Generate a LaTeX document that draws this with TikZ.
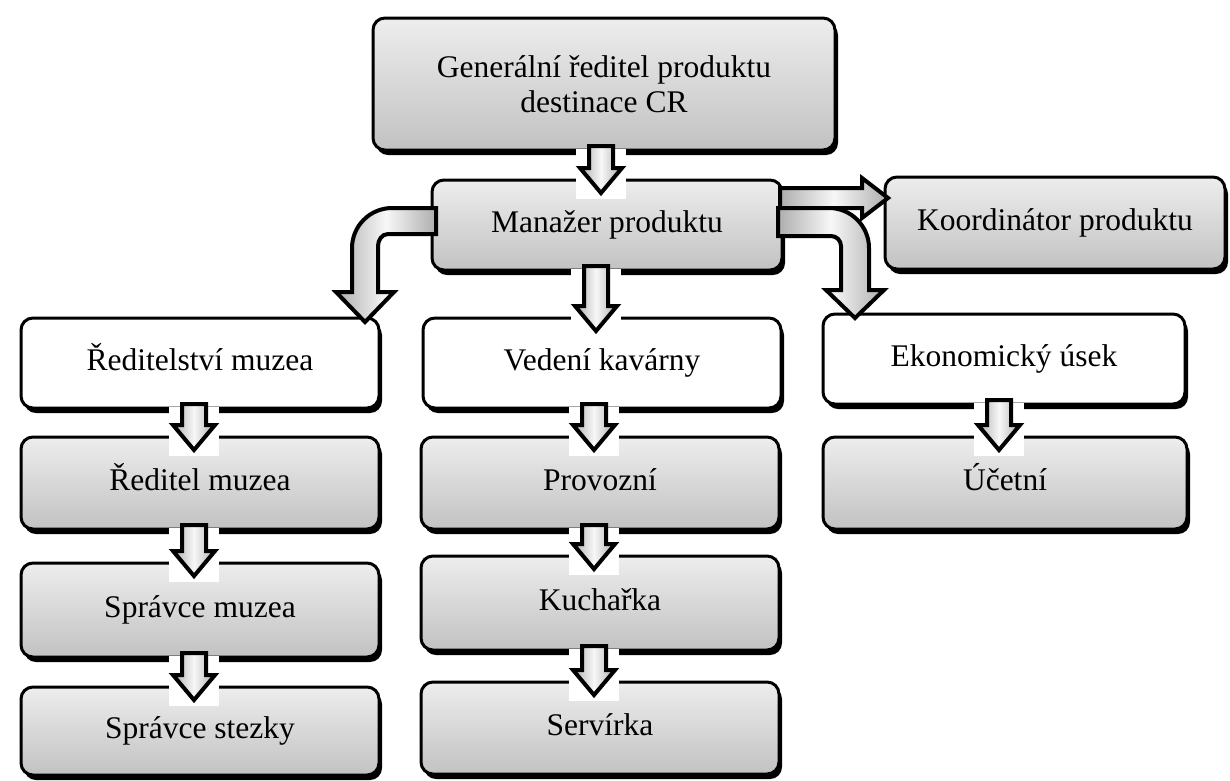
\documentclass[tikz,border=0pt]{standalone}
\usepackage{fontspec}
\setmainfont{Liberation Serif}
\usetikzlibrary{calc,shadows}

\tikzset{
  unit/.style={rectangle, rounded corners=12pt, draw=black, line width=3pt, outer sep=0pt,
    minimum width=358pt, minimum height=92pt, align=center,
    font=\fontsize{31.5}{35}\selectfont, top color=black!7, bottom color=black!24,
    drop shadow={shadow xshift=3pt, shadow yshift=-5pt, fill=black, opacity=1}},
  postbox/.style={unit, text height=22pt, text depth=8pt},
  deptbox/.style={postbox, top color=white, bottom color=white},
  flowarrow/.style={draw=black, line width=4pt, left color=black!32, right color=black!32, middle color=black!3},
}

% straight block arrow from box #1 down to box #2
\newcommand{\flowdown}[2]{%
  \fill[white] ($(#1.south -| #2.north)+(-31,-1)$) rectangle ($(#2.north)+(19,19)$);
  \draw[flowarrow] ($(#1.south -| #2.north)+(-18,-4)$) -- ($(#2.north)+(-18,-12)$)
    -- ($(#2.north)+(-27,-12)$) -- ($(#2.north)+(-6,13)$) -- ($(#2.north)+(15,-12)$)
    -- ($(#2.north)+(6,-12)$) -- ($(#1.south -| #2.north)+(6,-4)$) -- cycle;
}

\begin{document}
\begin{tikzpicture}[x=1pt,y=-1pt]
  \useasboundingbox (0,0) rectangle (1230,780);

  \node[unit, minimum width=462pt, minimum height=132pt] (gen) at (604,84) {Generální ředitel produktu\\destinace CR};
  \node[postbox, minimum width=350pt, minimum height=90pt] (mgr) at (607,225) {Manažer produktu};
  \node[postbox, minimum width=340pt, minimum height=92pt] (koord) at (1055,223) {Koordinátor produktu};

  \node[deptbox, minimum height=90pt] (muz) at (200,363) {Ředitelství muzea};
  \node[postbox] (red) at (200,483) {Ředitel muzea};
  \node[postbox, minimum height=94pt] (spm) at (200,610) {Správce muzea};
  \node[postbox, minimum height=88pt] (sps) at (200,731) {Správce stezky};

  \node[deptbox, minimum height=90pt] (kav) at (602,363) {Vedení kavárny};
  \node[postbox] (prov) at (600,483) {Provozní};
  \node[postbox, minimum height=94pt] (kuch) at (600,603) {Kuchařka};
  \node[postbox] (serv) at (600,728) {Servírka};

  \node[deptbox, minimum width=362pt, minimum height=90pt] (eko) at (1004,359) {Ekonomický úsek};
  \node[postbox, minimum width=364pt] (uct) at (1005,483) {Účetní};

  \flowdown{gen}{mgr}
  \flowdown{mgr}{kav}
  \flowdown{muz}{red}
  \flowdown{red}{spm}
  \flowdown{spm}{sps}
  \flowdown{kav}{prov}
  \flowdown{prov}{kuch}
  \flowdown{kuch}{serv}
  \flowdown{eko}{uct}

  \draw[flowarrow] ($(mgr.west)+(4,-17)$) -- ($(mgr.west)+(-40,-17)$)
    .. controls ($(mgr.west)+(-62,-17)$) and ($(mgr.west)+(-80,1)$) .. ($(mgr.west)+(-80,23)$)
    -- ($(muz.north east)+(-27,-26)$) -- ($(muz.north east)+(-43,-26)$) -- ($(muz.north east)+(-14,4)$)
    -- ($(muz.north east)+(15,-26)$) -- ($(muz.north east)+(-1,-26)$) -- ($(mgr.west)+(-54,21)$)
    .. controls ($(mgr.west)+(-54,15)$) and ($(mgr.west)+(-50,9)$) .. ($(mgr.west)+(-44,9)$)
    -- ($(mgr.west)+(4,9)$) -- cycle;

  \draw[flowarrow] ($(mgr.east)+(-2,-37)$) -- ($(koord.west)+(-23,-35)$) -- ($(koord.west)+(-23,-45)$)
    -- ($(koord.west)+(3,-25)$) -- ($(koord.west)+(-23,-5)$) -- ($(koord.west)+(-23,-15)$)
    -- ($(mgr.east)+(-2,-17)$) -- cycle;

  \draw[flowarrow] ($(mgr.east)+(-4,-17)$) -- ($(mgr.east)+(47,-17)$)
    .. controls ($(mgr.east)+(69,-17)$) and ($(mgr.east)+(87,1)$) .. ($(mgr.east)+(87,23)$)
    -- ($(eko.north west)+(46,-24)$) -- ($(eko.north west)+(61,-24)$) -- ($(eko.north west)+(32,4)$)
    -- ($(eko.north west)+(3,-24)$) -- ($(eko.north west)+(18,-24)$) -- ($(mgr.east)+(59,21)$)
    .. controls ($(mgr.east)+(59,15.5)$) and ($(mgr.east)+(54.5,11)$) .. ($(mgr.east)+(49,11)$)
    -- ($(mgr.east)+(-4,11)$) -- cycle;
\end{tikzpicture}
\end{document}
